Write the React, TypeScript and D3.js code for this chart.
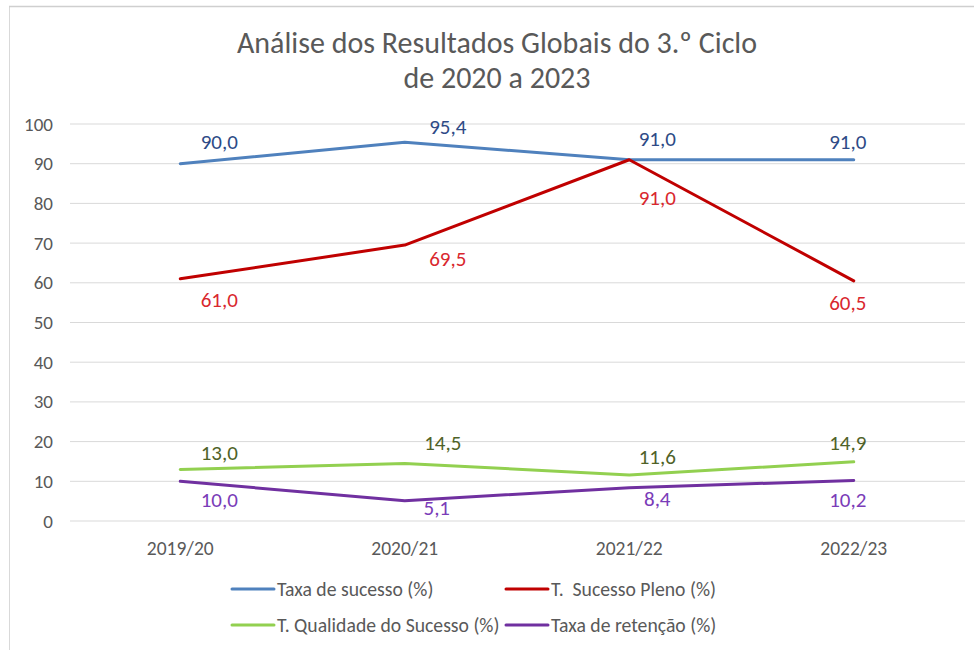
import React from "react";
import * as d3 from "d3";

const categories = ["2019/20", "2020/21", "2021/22", "2022/23"];
const seriesNames = [
  "Taxa de sucesso (%)",
  "T.  Sucesso Pleno (%)",
  "T. Qualidade do Sucesso (%)",
  "Taxa de retenção (%)",
];
const taxaSucesso = [90.0, 95.4, 91.0, 91.0];
const sucessoPleno = [61.0, 69.5, 91.0, 60.5];
const qualidadeSucesso = [13.0, 14.5, 11.6, 14.9];
const taxaRetencao = [10.0, 5.1, 8.4, 10.2];
const yTicks = [0, 10, 20, 30, 40, 50, 60, 70, 80, 90, 100];
const titleLines = ["Análise dos Resultados Globais do 3.º Ciclo", "de 2020 a 2023"];

const seriesValues = [taxaSucesso, sucessoPleno, qualidadeSucesso, taxaRetencao];
const lineColors = ["#4f81bd", "#c00000", "#92d050", "#7030a0"];
const labelColors = ["#2e4a86", "#d9272e", "#4f6228", "#7a3cb8"];
// manual label offsets (dx, dy) per series per category, as in the reference
const labelOffsets = [
  [[39, -22], [43, -15], [28, -21], [-6, -18]],
  [[39, 21], [43, 14], [28, 38], [-6, 22]],
  [[39, -16], [38, -20], [28, -18], [-6, -19]],
  [[39, 19], [32, 7], [28, 11], [-6, 19]],
];

const W = 974;
const H = 650;
const FONT = "Carlito, 'Liberation Sans Narrow', 'Open Sans', sans-serif";
const TXT = "#595959";

export default function App() {
  const x = d3.scaleBand<string>().domain(categories).range([68, 966]);
  const y = d3.scaleLinear().domain([0, 100]).range([521, 124]);
  const cx = (c: string) => (x(c) as number) + x.bandwidth() / 2;
  const line = d3
    .line<number>()
    .x((_, i) => cx(categories[i]))
    .y((d) => y(d));

  const legendPos = [
    [232, 589],
    [506, 589],
    [232, 625],
    [506, 625],
  ];

  return (
    <svg
      width={W}
      height={H}
      style={{ position: "absolute", left: 0, top: 0, background: "#fff" }}
      fontFamily={FONT}
    >
      <rect x={0} y={0} width={W} height={H} fill="#fff" />
      <line x1={9.5} y1={6} x2={9.5} y2={H} stroke="#d9d9d9" />
      <line x1={9} y1={6.5} x2={W} y2={6.5} stroke="#cfcfcf" strokeWidth={1.5} />

      {titleLines.map((t, i) => (
        <text
          key={i}
          x={497}
          y={53 + i * 35}
          textAnchor="middle"
          fontSize={30}
          fill={TXT}
        >
          {t}
        </text>
      ))}

      {yTicks.map((t) => (
        <g key={t}>
          <line x1={70} x2={965} y1={y(t)} y2={y(t)} stroke="#d9d9d9" strokeWidth={1} />
          <text x={53} y={y(t) + 6.5} textAnchor="end" fontSize={19} fill={TXT}>
            {t}
          </text>
        </g>
      ))}

      {categories.map((c) => (
        <text key={c} x={cx(c)} y={555} textAnchor="middle" fontSize={19.5} fill={TXT}>
          {c}
        </text>
      ))}

      {seriesValues.map((vals, si) => (
        <path
          key={si}
          d={line(vals) as string}
          fill="none"
          stroke={lineColors[si]}
          strokeWidth={3}
          strokeLinejoin="round"
          strokeLinecap="round"
        />
      ))}

      {seriesValues.map((vals, si) =>
        vals.map((v, i) => (
          <text
            key={si + "-" + i}
            x={cx(categories[i]) + labelOffsets[si][i][0]}
            y={y(v) + labelOffsets[si][i][1] + 7}
            textAnchor="middle"
            fontSize={21}
            fill={labelColors[si]}
          >
            {v.toFixed(1).replace(".", ",")}
          </text>
        ))
      )}

      {seriesNames.map((n, i) => (
        <g key={n}>
          <line
            x1={legendPos[i][0]}
            x2={legendPos[i][0] + 42}
            y1={legendPos[i][1]}
            y2={legendPos[i][1]}
            stroke={lineColors[i]}
            strokeWidth={3}
            strokeLinecap="round"
          />
          <text
            x={legendPos[i][0] + 45}
            y={legendPos[i][1] + 6.5}
            fontSize={19.7}
            fill={TXT}
            xmlSpace="preserve"
          >
            {n}
          </text>
        </g>
      ))}
    </svg>
  );
}
